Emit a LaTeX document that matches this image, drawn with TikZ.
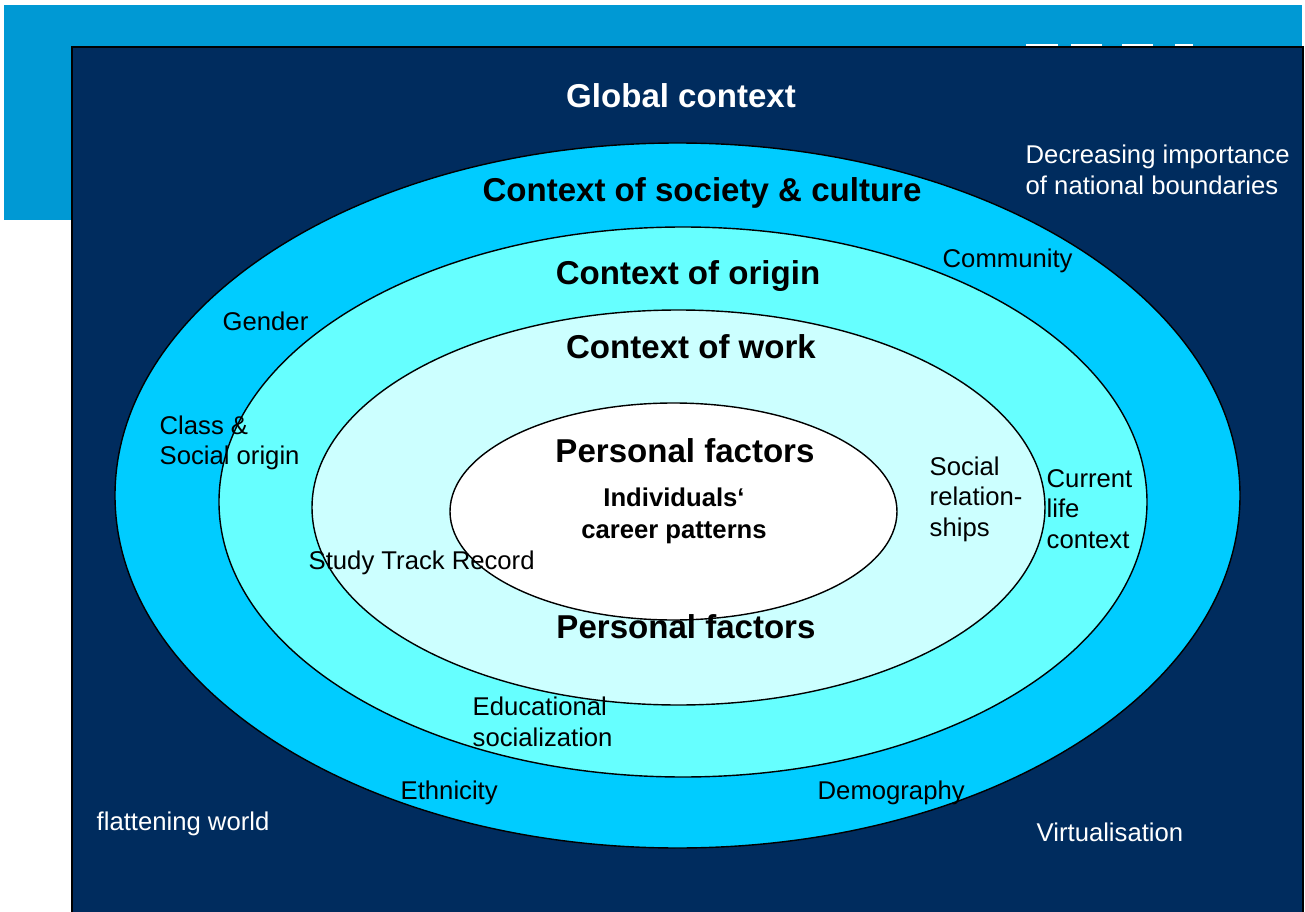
\documentclass[tikz,border=0pt]{standalone}
\usepackage{fontspec}
\setmainfont{Liberation Sans}
\definecolor{bandblue}{RGB}{0,153,212}
\definecolor{navy}{RGB}{0,44,94}
\definecolor{ringsoc}{RGB}{0,204,255}
\definecolor{ringorig}{RGB}{102,255,255}
\definecolor{ringwork}{RGB}{204,255,255}
\begin{document}
\begin{tikzpicture}[x=0.01cm,y=-0.01cm,
  ctxhead/.style={inner sep=0pt,font=\fontsize{9.4}{11}\selectfont\bfseries},
  factor/.style={inner sep=0pt,align=left,font=\fontsize{7.3}{8.7}\selectfont},
  outfactor/.style={factor,text=white}]
\useasboundingbox (0,0) rectangle (1305,912);
% BANNER BEHIND THE FRAME
\fill [bandblue] (4,5) rectangle (1302,220);
\foreach \a/\b in {1026/1058,1071/1102,1122/1153,1175/1193}
  \fill [white] (\a,44) rectangle (\b,47);
% GLOBAL FRAME
\filldraw [fill=navy,draw=black,thin] (72,47) rectangle (1303,913);
% CONTEXT RINGS
\filldraw [fill=ringsoc,draw=black,thin] (677.5,495.5) ellipse (562.5 and 352.5);
\filldraw [fill=ringorig,draw=black,thin] (683,502) ellipse (464 and 275);
\filldraw [fill=ringwork,draw=black,thin] (678.5,507.5) ellipse (366.5 and 197.5);
\filldraw [fill=white,draw=black,thin] (673.5,511.5) ellipse (223.5 and 108.5);
% HEADINGS
\node [ctxhead,text=white] (global) at (681,96) {Global context};
\node [ctxhead] (society) at (702,193) {Context of society \& culture};
\node [ctxhead] (origin) at (688,276) {Context of origin};
\node [ctxhead] (work) at (691,347) {Context of work};
\node [ctxhead] (persup) at (685,451) {Personal factors};
\node [factor,align=center,font=\fontsize{7.3}{8.9}\selectfont\bfseries] (career) at (674,516) {Individuals‘\\career patterns};
\node [ctxhead] (perslow) at (686,627) {Personal factors};
% FACTORS OUTSIDE THE RINGS
\node [outfactor,anchor=west] (borders) at (1025,170) {Decreasing importance\\of national boundaries};
\node [outfactor,anchor=west] (flat) at (96,824) {flattening world};
\node [outfactor,anchor=west] (virtual) at (1036,832) {Virtualisation};
% FACTORS IN THE RINGS
\node [factor,anchor=west] (community) at (942,261) {Community};
\node [factor,anchor=west] (gender) at (222,321) {Gender};
\node [factor,anchor=west] (class) at (159,443) {Class \&\\Social origin};
\node [factor,anchor=west] (relations) at (929,499) {Social\\relation-\\ships};
\node [factor,anchor=west] (current) at (1046,509) {Current\\life\\context};
\node [factor,anchor=west] (study) at (308,563) {Study Track Record};
\node [factor,anchor=west] (educ) at (472,722) {Educational\\socialization};
\node [factor,anchor=west] (ethnic) at (400,793) {Ethnicity};
\node [factor,anchor=west] (demo) at (817,793) {Demography};
\end{tikzpicture}
\end{document}
